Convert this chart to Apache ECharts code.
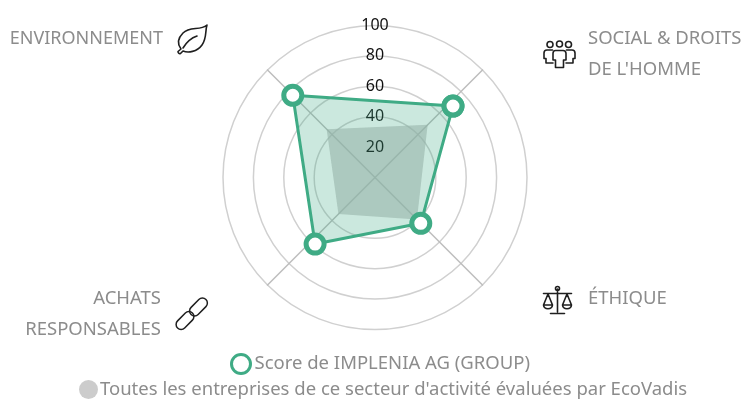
<!DOCTYPE html>
<html>
<head>
<meta charset="utf-8">
<script src="https://cdn.jsdelivr.net/npm/echarts@6/dist/echarts.min.js"></script>
<style>
  html, body {margin: 0; padding: 0; background: #fff;}
  #chart {width: 743px; height: 401px;}
</style>
</head>
<body>
<div id="chart"></div>
<script>
const categories = ["SOCIAL & DROITS\nDE L'HOMME", 'ENVIRONNEMENT', 'ACHATS\nRESPONSABLES', 'ÉTHIQUE']
const companyName = 'Score de IMPLENIA AG (GROUP)'
// the markers do not sit exactly on the spokes in the picture, so each has its own angle
const companyValues = [69.6, 76.5, 58.9, 42.6]
const companyAngles = [47.5, 315, 222, 135]
const sectorName = "Toutes les entreprises de ce secteur d'activité évaluées par EcoVadis"
const sectorValues = [49, 45, 34, 39]

const green = '#3fab85'
const textGrey = '#8c8c8c'
const fontFamily = '"Noto Sans", "Open Sans", sans-serif'
const center = [375, 177.5]
const radius = 152

const nameText = (text, x, y, align, size = 18.5) => ({
  type: 'text',
  x, y,
  style: {text, x: 0, y: 0, fill: textGrey, font: size + 'px ' + fontFamily, align, verticalAlign: 'top', lineHeight: 31}
})

// icons are drawn as svg images, the path coordinates are page pixels
const icon = (pathData) => ({
  type: 'image',
  style: {
    x: 0, y: 0, width: 743, height: 401,
    image: 'data:image/svg+xml;charset=utf-8,' + encodeURIComponent(
      '<svg xmlns="http://www.w3.org/2000/svg" width="743" height="401" viewBox="0 0 743 401">' +
      '<path d="' + pathData + '" fill="none" stroke="#1f1f1f" stroke-width="1.6" stroke-linejoin="round" stroke-linecap="round"/></svg>')
  }
})

const link = (x, y) => ({
  type: 'rect',
  x, y,
  rotation: Math.PI / 4,
  shape: {x: -10.5, y: -5, width: 21, height: 10, r: 5},
  style: {fill: 'none', stroke: '#1f1f1f', lineWidth: 1.5}
})

const companyPoints = companyValues.map((val, i) => [val, companyAngles[i]])

const chart = echarts.init(document.getElementById('chart'))
chart.setOption({
  animation: false,
  textStyle: {fontFamily},
  legend: [
    {
      left: 225, top: 348,
      selectedMode: false,
      itemWidth: 19, itemHeight: 19,
      textStyle: {color: textGrey, fontSize: 18.5, fontFamily, padding: [0, 0, 0, -1]},
      data: [{name: companyName, icon: 'circle', itemStyle: {color: '#fff', borderColor: green, borderWidth: 3, opacity: 1}}]
    },
    {
      left: 74, top: 375,
      selectedMode: false,
      itemWidth: 19, itemHeight: 19,
      textStyle: {color: textGrey, fontSize: 18.5, fontFamily, padding: [0, 0, 0, -3]},
      data: [{name: sectorName, icon: 'circle', itemStyle: {color: '#cccccc', borderWidth: 0, opacity: 1}}]
    }
  ],
  polar: {center, radius},
  angleAxis: {show: false, type: 'value', min: 0, max: 360},
  radiusAxis: {
    min: 0, max: 100, interval: 20,
    z: 3,
    axisLine: {show: false},
    axisTick: {show: false},
    splitLine: {show: false},
    axisLabel: {
      color: '#111111',
      fontSize: 16,
      margin: 0,
      align: 'center',
      verticalAlign: 'middle',
      formatter: (val) => (val === 0 ? '' : val)
    }
  },
  radar: {
    center, radius,
    z: 1,
    startAngle: 45,
    shape: 'circle',
    splitNumber: 5,
    indicator: categories.map(name => ({name, min: 0, max: 100})),
    axisName: {show: false},
    axisLabel: {show: false},
    axisTick: {show: false},
    axisLine: {lineStyle: {color: '#bdbdbd', width: 1.5}},
    // the innermost ring is not drawn in the picture
    splitLine: {lineStyle: {color: ['transparent', 'transparent', '#d0d0d0', '#d0d0d0', '#d0d0d0', '#d0d0d0'], width: 1.5}},
    splitArea: {show: false}
  },
  series: [
    {
      type: 'radar',
      name: sectorName,
      z: 2,
      symbol: 'none',
      lineStyle: {width: 0},
      areaStyle: {color: '#b8b8b8', opacity: 0.6},
      data: [{name: sectorName, value: sectorValues}]
    },
    {
      type: 'line',
      name: companyName,
      coordinateSystem: 'polar',
      z: 4,
      clip: false,
      symbol: 'circle',
      symbolSize: 18,
      showAllSymbol: true,
      itemStyle: {color: '#fff', borderColor: green, borderWidth: 5},
      lineStyle: {color: green, width: 3},
      areaStyle: {color: green, opacity: 0.27},
      data: [...companyPoints, companyPoints[0]]
    }
  ],
  graphic: [
    nameText(categories[1], 163, 23.5, 'right', 18),
    nameText(categories[0], 588, 23, 'left'),
    nameText(categories[2], 161, 283, 'right'),
    nameText(categories[3], 588, 283, 'left'),
    // leaf
    icon('M207 25C200 31 190 26 183 33C177 39 178 45 181 49L178 51.5C178 53 179 54 180.5 53.5L183 51C188 53 197 52 202 45C207 38 205 31 207 25ZM183 48C186 43 191 38 197 36'),
    // people
    icon('M553 44.5a3 3 0 1 1-6 0a3 3 0 1 1 6 0ZM562.5 44a3 3 0 1 1-6 0a3 3 0 1 1 6 0ZM571.5 44.5a3 3 0 1 1-6 0a3 3 0 1 1 6 0ZM555.5 50.5H563C565 50.5 566 51.5 566 53.5V60H563.5V67.5H555.5V60H553V53.5C553 51.5 554 50.5 555.5 50.5ZM552.5 50H547C545 50 544 51 544 53V58.5H546V63H553M566.5 50H572C574 50 575 51 575 53V58.5H573V63H566'),
    // scales
    icon('M557.5 289V312M550.5 313.5H564.5M543.5 293.5H571.5M548 294L543.5 305H552.5ZM567 294L562.5 305H571.5ZM543.5 305C544 310 552 310 552.5 305M562.5 305C563 310 571 310 571.5 305M559.5 288.5a2 2 0 1 1-4 0a2 2 0 1 1 4 0Z'),
    // chain
    link(185, 320.5),
    link(198.5, 307)
  ]
})
</script>
</body>
</html>
